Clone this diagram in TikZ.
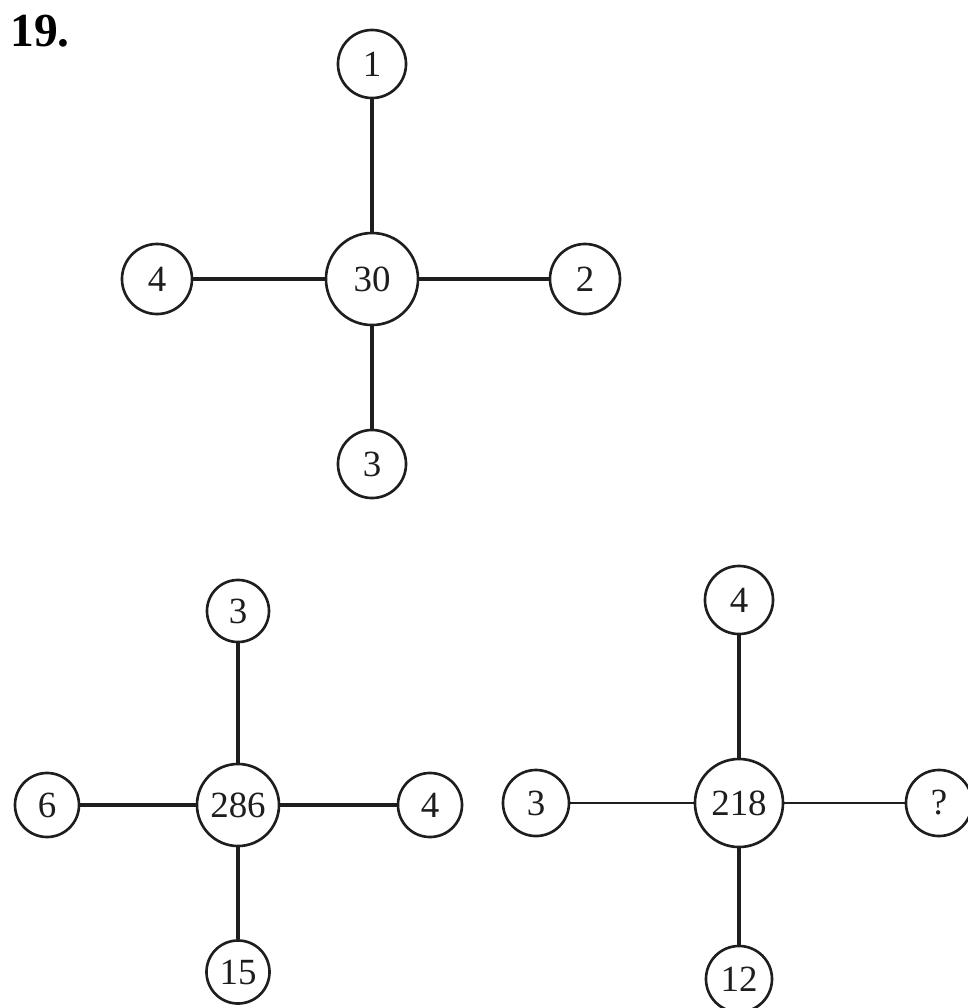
\documentclass[tikz,border=0pt]{standalone}
\usepackage{fontspec}
\setmainfont{Liberation Serif}
\usetikzlibrary{positioning}
\definecolor{ink}{HTML}{1E1E1E}

\begin{document}
\begin{tikzpicture}[x=0.01cm,y=-0.01cm,
  num/.style={circle,draw=ink,line width=0.75pt,inner sep=0pt,text=ink,font=\fontsize{10.5}{12}\selectfont},
  spoke/.style={draw=ink,line width=0.9pt},
  thinspoke/.style={draw=ink,line width=0.45pt}]
\useasboundingbox (0,0) rectangle (968,1008);
\node[font=\bfseries\fontsize{13.5}{15}\selectfont] (qno) at (40,31) {19.};
% top figure
\node[num,minimum size=0.92cm] (tc) at (372,279) {30};
\node[num,minimum size=0.68cm] (tn) at (372,64) {1};
\node[num,minimum size=0.70cm] (tw) at (157,279) {4};
\node[num,minimum size=0.70cm] (te) at (585,279) {2};
\node[num,minimum size=0.68cm] (ts) at (372,464) {3};
\foreach \n in {tn,tw,te,ts}
  \draw[spoke] (tc) -- (\n);
% bottom left figure
\node[num,minimum size=0.82cm] (lc) at (238,805) {286};
\node[num,minimum size=0.62cm] (ln) at (238,611) {3};
\node[num,minimum size=0.64cm] (lw) at (47,805) {6};
\node[num,minimum size=0.64cm] (le) at (430,805) {4};
\node[num,minimum size=0.63cm] (ls) at (238,972) {15};
\foreach \n in {ln,lw,le,ls}
  \draw[spoke,line width=1.1pt] (lc) -- (\n);
% bottom right figure
\node[num,minimum size=0.88cm] (rc) at (739,803) {218};
\node[num,minimum size=0.68cm] (rn) at (739,600) {4};
\node[num,minimum size=0.66cm] (rw) at (536,803) {3};
\node[num,minimum size=0.66cm] (re) at (939,803) {?};
\node[num,minimum size=0.66cm] (rs) at (739,979) {12};
\foreach \n in {rn,rs}
  \draw[spoke,line width=1.1pt] (rc) -- (\n);
\foreach \n in {rw,re}
  \draw[thinspoke] (rc) -- (\n);
\end{tikzpicture}
\end{document}
